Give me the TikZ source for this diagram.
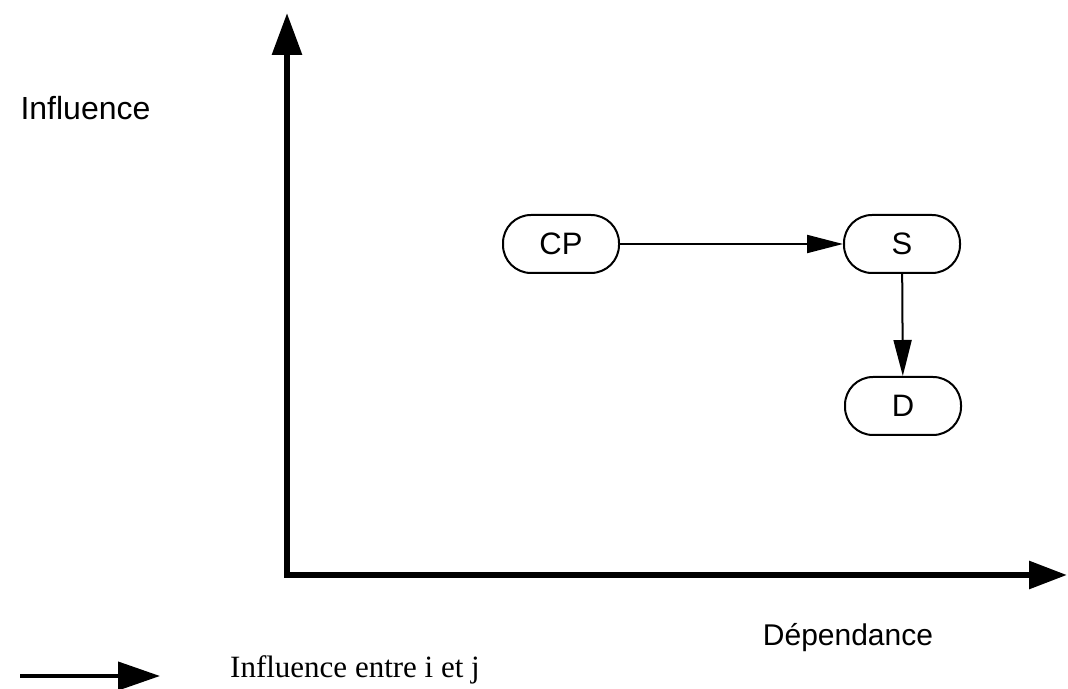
\documentclass[tikz,border=0pt]{standalone}
\usepackage{fontspec}
\setsansfont{Liberation Sans}
\newfontfamily\legendfont{Liberation Serif}
\usetikzlibrary{arrows.meta, positioning}
\tikzset{
	factor/.style={rectangle, draw, line width=2pt, rounded corners=28pt, minimum width=116pt, minimum height=58pt, font=\sffamily\fontsize{31}{36}\selectfont},
	link/.style={draw, line width=2pt, -{Triangle[length=36pt, width=18pt]}},
	axis/.style={draw, line width=6pt, {Triangle[length=42pt, width=29pt]}-{Triangle[length=38pt, width=27pt]}}
}

\begin{document}
\begin{tikzpicture}[
	% One unit is one pixel of the reference.
	x=1pt, y=1pt
	]
	\useasboundingbox (0,0) rectangle (1068,688);
	
	% === AXES ===
	\coordinate (origin) at (287,113);
	\coordinate (ytop) at (287,675);
	\coordinate (xend) at (1067,113);
	\draw[axis] (ytop) -- (origin) -- (xend);
	
	\node[anchor=west, font=\sffamily\fontsize{32}{36}\selectfont] (ylabel) at (17,580) {Influence};
	\node[font=\sffamily\fontsize{30}{34}\selectfont] (xlabel) at (848,50) {Dépendance};
	
	% === NODES ===
	\node[factor] (cp) at (561,444) {CP};
	\node[factor] (s) at (902,444) {S};
	\node[factor] (d) at (903,282) {D};
	
	% === CONNECTIONS ===
	\draw[link] (cp) -- (s);
	\draw[link] (s) -- (d);
	
	% === LEGEND ===
	\coordinate (legstart) at (20,12);
	\coordinate (legend) at (160,12);
	\draw[line width=4pt, -{Triangle[length=42pt, width=28pt]}] (legstart) -- (legend);
	\node[anchor=base west, inner sep=0pt, font=\legendfont\fontsize{31}{36}\selectfont] (legtext) at (230,11) {Influence entre i et j};
\end{tikzpicture}
\end{document}
